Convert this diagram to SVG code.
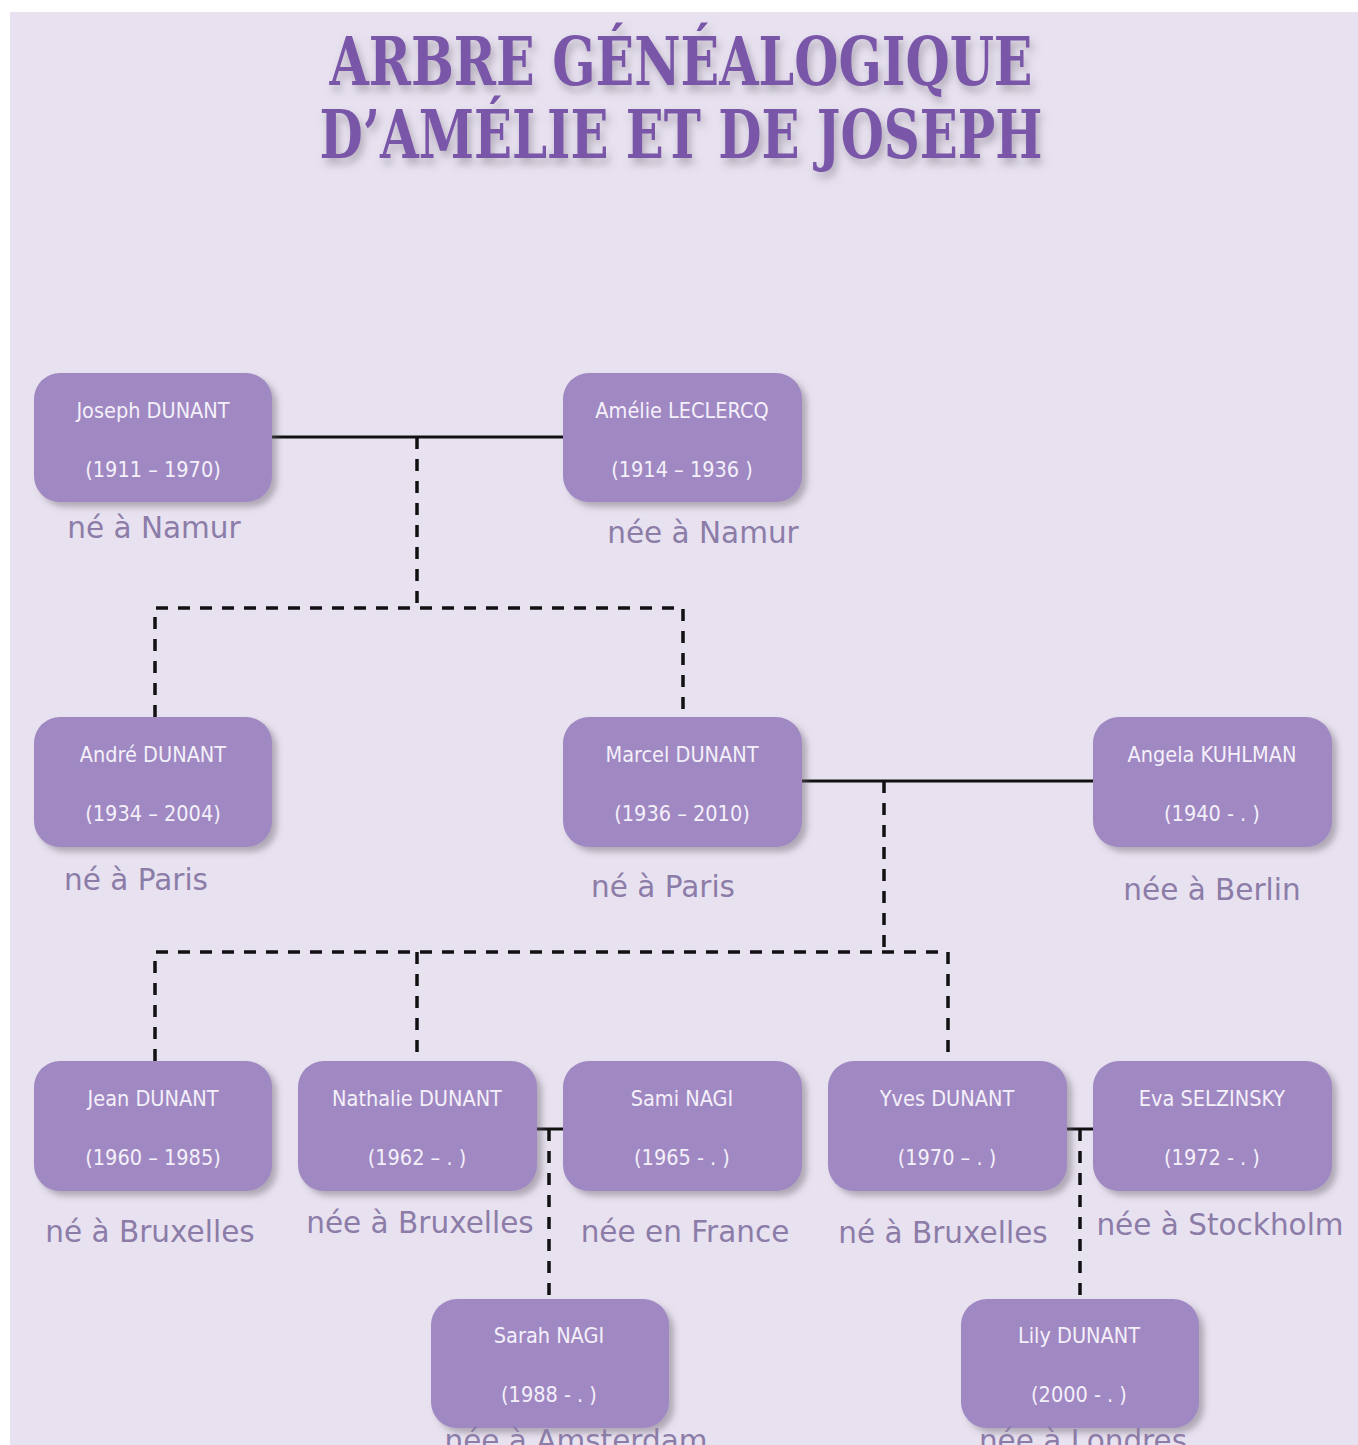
<svg xmlns="http://www.w3.org/2000/svg" width="1358" height="1445" viewBox="0 0 1358 1445">
<defs>
<filter id="sh" x="-10%" y="-10%" width="130%" height="140%">
<feDropShadow dx="5" dy="5" stdDeviation="3" flood-color="#6a6070" flood-opacity="0.45"/>
</filter>
<filter id="tsh" x="-5%" y="-20%" width="110%" height="150%">
<feDropShadow dx="3" dy="6" stdDeviation="4" flood-color="#6a6070" flood-opacity="0.45"/>
</filter>
<style>
.box{fill:#a088c2;filter:url(#sh)}
.nm{font-family:"DejaVu Sans Condensed","DejaVu Sans",sans-serif;font-stretch:condensed;font-size:21.5px;fill:#f4f0fa;text-anchor:middle}
.lb{font-family:"DejaVu Sans",sans-serif;font-size:29.5px;fill:#8c7ca8;text-anchor:middle}
.ttl{font-family:"DejaVu Serif Condensed","DejaVu Serif",serif;font-weight:bold;font-size:68px;fill:#7a56a8;text-anchor:middle}
.sol{stroke:#111;stroke-width:3;fill:none}
.dsh{stroke:#111;stroke-width:3.5;fill:none;stroke-dasharray:12 10}
</style>
</defs>
<rect x="0" y="0" width="1358" height="1445" fill="#ffffff"/>
<rect x="10" y="12" width="1348" height="1433" fill="#e8e2f0"/>
<g id="title" filter="url(#tsh)">
<text class="ttl" x="681" y="85" textLength="703" lengthAdjust="spacingAndGlyphs">ARBRE GÉNÉALOGIQUE</text>
<text class="ttl" x="681" y="158" textLength="723" lengthAdjust="spacingAndGlyphs">D’AMÉLIE ET DE JOSEPH</text>
</g>
<g id="connectors">
<line class="sol" x1="272" y1="437" x2="563" y2="437"/>
<path class="dsh" d="M417 437 V608"/>
<path class="dsh" d="M155 717 V608 H683 V717"/>
<line class="sol" x1="802" y1="781" x2="1093" y2="781"/>
<path class="dsh" d="M884 781 V952"/>
<path class="dsh" d="M155 1061 V952 H948 V1061"/>
<path class="dsh" d="M417 952 V1061"/>
<line class="sol" x1="537" y1="1129" x2="563" y2="1129"/>
<path class="dsh" d="M549 1129 V1299"/>
<line class="sol" x1="1067" y1="1129" x2="1093" y2="1129"/>
<path class="dsh" d="M1080 1129 V1299"/>
</g>
<g id="joseph"><rect class="box" x="34" y="373" width="238" height="129" rx="26"/><text class="nm" x="153" y="418">Joseph DUNANT</text><text class="nm" x="153" y="477">(1911 – 1970)</text><text class="lb" x="154" y="538">né à Namur</text></g>
<g id="amelie"><rect class="box" x="563" y="373" width="239" height="129" rx="26"/><text class="nm" x="682" y="418">Amélie LECLERCQ</text><text class="nm" x="682" y="477">(1914 – 1936 )</text><text class="lb" x="703" y="543">née à Namur</text></g>
<g id="andre"><rect class="box" x="34" y="717" width="238" height="130" rx="26"/><text class="nm" x="153" y="762">André DUNANT</text><text class="nm" x="153" y="821">(1934 – 2004)</text><text class="lb" x="136" y="890">né à Paris</text></g>
<g id="marcel"><rect class="box" x="563" y="717" width="239" height="130" rx="26"/><text class="nm" x="682" y="762">Marcel DUNANT</text><text class="nm" x="682" y="821">(1936 – 2010)</text><text class="lb" x="663" y="897">né à Paris</text></g>
<g id="angela"><rect class="box" x="1093" y="717" width="239" height="130" rx="26"/><text class="nm" x="1212" y="762">Angela KUHLMAN</text><text class="nm" x="1212" y="821">(1940 -  . )</text><text class="lb" x="1212" y="900">née à Berlin</text></g>
<g id="jean"><rect class="box" x="34" y="1061" width="238" height="130" rx="26"/><text class="nm" x="153" y="1106">Jean DUNANT</text><text class="nm" x="153" y="1165">(1960 – 1985)</text><text class="lb" x="150" y="1242">né à Bruxelles</text></g>
<g id="nathalie"><rect class="box" x="298" y="1061" width="239" height="130" rx="26"/><text class="nm" x="417" y="1106">Nathalie DUNANT</text><text class="nm" x="417" y="1165">(1962 – . )</text><text class="lb" x="420" y="1233">née à Bruxelles</text></g>
<g id="sami"><rect class="box" x="563" y="1061" width="239" height="130" rx="26"/><text class="nm" x="682" y="1106">Sami NAGI</text><text class="nm" x="682" y="1165">(1965 - . )</text><text class="lb" x="685" y="1242">née en France</text></g>
<g id="yves"><rect class="box" x="828" y="1061" width="239" height="130" rx="26"/><text class="nm" x="947" y="1106">Yves DUNANT</text><text class="nm" x="947" y="1165">(1970 – . )</text><text class="lb" x="943" y="1243">né à Bruxelles</text></g>
<g id="eva"><rect class="box" x="1093" y="1061" width="239" height="130" rx="26"/><text class="nm" x="1212" y="1106">Eva SELZINSKY</text><text class="nm" x="1212" y="1165">(1972 - . )</text><text class="lb" x="1220" y="1235">née à Stockholm</text></g>
<g id="sarah"><rect class="box" x="431" y="1299" width="238" height="129" rx="26"/><text class="nm" x="549" y="1343">Sarah NAGI</text><text class="nm" x="549" y="1402">(1988 - . )</text><text class="lb" x="576" y="1451">née à Amsterdam</text></g>
<g id="lily"><rect class="box" x="961" y="1299" width="238" height="129" rx="26"/><text class="nm" x="1079" y="1343">Lily DUNANT</text><text class="nm" x="1079" y="1402">(2000 - . )</text><text class="lb" x="1083" y="1451">née à Londres</text></g>
</svg>
